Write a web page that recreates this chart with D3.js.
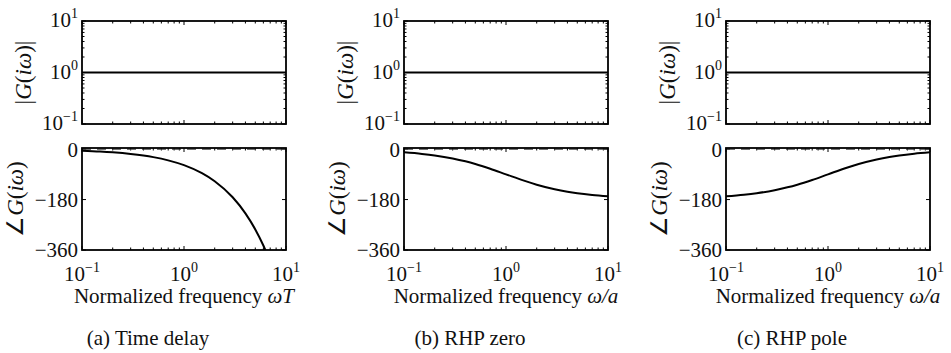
<!DOCTYPE html>
<html>
<head>
<meta charset="utf-8">
<script src="https://cdn.jsdelivr.net/npm/d3@7"></script>
<style>
  body { margin: 0; background: #fff; }
  #chart text { font-family: "Liberation Serif", "Times New Roman", serif; }
</style>
</head>
<body>
<svg id="chart" width="951" height="353"></svg>
<script>
  // frequencies (normalized)
  const freqDelay = [0.1, 0.15, 0.2, 0.3, 0.4, 0.5, 0.7, 1, 1.5, 2, 3, 4, 5, 6, 6.3]
  const phaseDelay = [-5.7, -8.6, -11.5, -17.2, -22.9, -28.6, -40.1, -57.3, -85.9, -114.6, -171.9, -229.2, -286.5, -343.8, -361]

  const freqZP = [0.1, 0.15, 0.2, 0.3, 0.4, 0.5, 0.7, 1, 1.5, 2, 3, 4, 5, 7, 10]
  const phaseZero = [-11.4, -17.1, -22.6, -33.4, -43.6, -53.1, -70.0, -90, -112.6, -126.9, -143.1, -151.9, -157.4, -163.7, -168.6]
  const phasePole = [-168.6, -162.9, -157.4, -146.6, -136.4, -126.9, -110.0, -90, -67.4, -53.1, -36.9, -28.1, -22.6, -16.3, -11.4]

  const freqMag = [0.1, 10]
  const magnitude = [1, 1]

  const magTicks = [0.1, 1, 10]
  const phaseTicks = [0, -180, -360]
  const xTicks = [0.1, 1, 10]

  const panels = [
    { caption: '(a) Time delay', xvar: 'ωT', freq: freqDelay, phase: phaseDelay },
    { caption: '(b) RHP zero', xvar: 'ω/a', freq: freqZP, phase: phaseZero },
    { caption: '(c) RHP pole', xvar: 'ω/a', freq: freqZP, phase: phasePole }
  ]

  const
    font = "'Liberation Serif', 'Times New Roman', serif",
    lefts = [82, 404, 726],
    plotW = 204,
    magTop = 21, magBot = 124,
    phTop = 148, phBot = 250

  const svg = d3.select('#chart')
  const defs = svg.append('defs')

  // minor log ticks 2..9 for every decade
  function minorTicks(lo, hi) {
    const out = []
    for (let e = Math.log10(lo); e < Math.log10(hi); e++) {
      for (let k = 2; k <= 9; k++) out.push(k * Math.pow(10, e))
    }
    return out
  }

  function addText(parent, size) {
    return parent.append('text').attr('font-family', font).attr('font-size', size).attr('fill', '#111')
  }

  function powLabel(sel, exp) {
    sel.append('tspan').text('10')
    sel.append('tspan').attr('dy', -9).attr('font-size', 14).text(exp < 0 ? '\u2212' + (-exp) : exp)
  }

  panels.forEach(function(p, i) {
    const x0 = lefts[i]
    const g = svg.append('g')

    const x = d3.scaleLog().domain([0.1, 10]).range([x0, x0 + plotW])
    const yMag = d3.scaleLog().domain([0.1, 10]).range([magBot, magTop])
    const yPh = d3.scaleLinear().domain([-360, 4]).range([phBot, phTop])

    const clipId = 'clip' + i
    defs.append('clipPath').attr('id', clipId)
      .append('rect').attr('x', x0).attr('y', phTop).attr('width', plotW).attr('height', phBot - phTop)

    const xMinor = minorTicks(0.1, 10)

    // ---- magnitude plot ----
    const mag = g.append('g')

    // ticks point inward on all four sides
    xTicks.concat(xMinor).forEach(function(t) {
      const len = xTicks.includes(t) ? 4 : 2.5
      mag.append('line').attr('x1', x(t)).attr('x2', x(t)).attr('y1', magBot).attr('y2', magBot - len)
        .attr('stroke', '#000').attr('stroke-width', 1)
      mag.append('line').attr('x1', x(t)).attr('x2', x(t)).attr('y1', magTop).attr('y2', magTop + len)
        .attr('stroke', '#000').attr('stroke-width', 1)
    })
    magTicks.concat(minorTicks(0.1, 10)).forEach(function(t) {
      const len = magTicks.includes(t) ? 4 : 2.5
      mag.append('line').attr('x1', x0).attr('x2', x0 + len).attr('y1', yMag(t)).attr('y2', yMag(t))
        .attr('stroke', '#000').attr('stroke-width', 1)
      mag.append('line').attr('x1', x0 + plotW).attr('x2', x0 + plotW - len).attr('y1', yMag(t)).attr('y2', yMag(t))
        .attr('stroke', '#000').attr('stroke-width', 1)
    })

    mag.append('path')
      .datum(freqMag.map(function(f, k) { return [f, magnitude[k]] }))
      .attr('fill', 'none').attr('stroke', '#000').attr('stroke-width', 2)
      .attr('d', d3.line().x(function(d) { return x(d[0]) }).y(function(d) { return yMag(d[1]) }))

    mag.append('rect').attr('x', x0).attr('y', magTop).attr('width', plotW).attr('height', magBot - magTop)
      .attr('fill', 'none').attr('stroke', '#000').attr('stroke-width', 1.8)

    magTicks.forEach(function(t) {
      const txt = addText(mag, 21).attr('x', x0 - 4).attr('y', yMag(t) + 6).attr('text-anchor', 'end')
      powLabel(txt, Math.round(Math.log10(t)))
    })

    addText(mag, 23)
      .attr('transform', 'translate(' + (x0 - 51) + ',' + ((magTop + magBot) / 2) + ') rotate(-90)')
      .attr('text-anchor', 'middle')
      .call(function(t) {
        t.append('tspan').text('|')
        t.append('tspan').attr('font-style', 'italic').text('G')
        t.append('tspan').text('(')
        t.append('tspan').attr('font-style', 'italic').text('iω')
        t.append('tspan').text(')|')
      })

    // ---- phase plot ----
    const ph = g.append('g')
    xTicks.concat(xMinor).forEach(function(t) {
      const len = xTicks.includes(t) ? 4 : 2.5
      ph.append('line').attr('x1', x(t)).attr('x2', x(t)).attr('y1', phBot).attr('y2', phBot - len)
        .attr('stroke', '#000').attr('stroke-width', 1)
      ph.append('line').attr('x1', x(t)).attr('x2', x(t)).attr('y1', phTop).attr('y2', phTop + len)
        .attr('stroke', '#000').attr('stroke-width', 1)
    })
    phaseTicks.forEach(function(t) {
      ph.append('line').attr('x1', x0).attr('x2', x0 + 4).attr('y1', yPh(t)).attr('y2', yPh(t))
        .attr('stroke', '#000').attr('stroke-width', 1)
      ph.append('line').attr('x1', x0 + plotW).attr('x2', x0 + plotW - 4).attr('y1', yPh(t)).attr('y2', yPh(t))
        .attr('stroke', '#000').attr('stroke-width', 1)
    })

    // dashed reference at 0 deg
    ph.append('line').attr('x1', x(0.1)).attr('x2', x(10)).attr('y1', yPh(0)).attr('y2', yPh(0))
      .attr('stroke', '#444').attr('stroke-width', 1.3).attr('stroke-dasharray', '9,6')

    ph.append('path')
      .datum(p.freq.map(function(f, k) { return [f, p.phase[k]] }))
      .attr('clip-path', 'url(#' + clipId + ')')
      .attr('fill', 'none').attr('stroke', '#000').attr('stroke-width', 2)
      .attr('d', d3.line().curve(d3.curveMonotoneX)
        .x(function(d) { return x(d[0]) }).y(function(d) { return yPh(d[1]) }))

    ph.append('rect').attr('x', x0).attr('y', phTop).attr('width', plotW).attr('height', phBot - phTop)
      .attr('fill', 'none').attr('stroke', '#000').attr('stroke-width', 1.8)

    phaseTicks.forEach(function(t) {
      addText(ph, 21).attr('x', x0 - 4).attr('y', yPh(t) + (t === 0 ? 8 : 7))
        .attr('text-anchor', 'end')
        .text(t < 0 ? '\u2212' + (-t) : t)
    })

    xTicks.forEach(function(t) {
      const txt = addText(ph, 21).attr('x', x(t)).attr('y', 281).attr('text-anchor', 'middle')
      powLabel(txt, Math.round(Math.log10(t)))
    })

    addText(ph, 23)
      .attr('transform', 'translate(' + (x0 - 59) + ',' + ((phTop + phBot) / 2) + ') rotate(-90)')
      .attr('text-anchor', 'middle')
      .call(function(t) {
        t.append('tspan').text('∠')
        t.append('tspan').attr('font-style', 'italic').text('G')
        t.append('tspan').text('(')
        t.append('tspan').attr('font-style', 'italic').text('iω')
        t.append('tspan').text(')')
      })

    addText(ph, 21).attr('x', x0 + plotW / 2).attr('y', 303)
      .attr('text-anchor', 'middle')
      .call(function(t) {
        t.append('tspan').text('Normalized frequency ')
        t.append('tspan').attr('font-style', 'italic').text(p.xvar)
      })

    addText(svg, 21).attr('x', x0 + plotW / 2 - 36).attr('y', 345)
      .attr('text-anchor', 'middle')
      .text(p.caption)
  })
</script>
</body>
</html>
